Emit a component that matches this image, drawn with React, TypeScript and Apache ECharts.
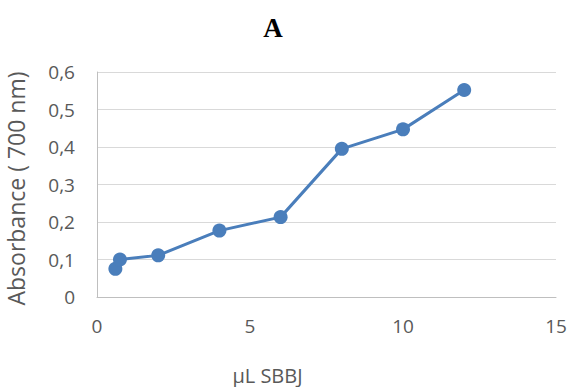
import React, { useEffect, useRef } from "react";
import * as echarts from "echarts";

const xValues = [0.6, 0.75, 2, 4, 6, 8, 10, 12];
const yValues = [0.075, 0.1, 0.111, 0.177, 0.213, 0.395, 0.447, 0.552];
const titleText = "A";
const xName = "µL SBBJ";
const yName = "Absorbance ( 700 nm)";

export default function App() {
  const ref = useRef<HTMLDivElement>(null);
  useEffect(() => {
    if (!ref.current) return;
    const chart = echarts.init(ref.current, undefined, { renderer: "svg" });
    const font = "'Open Sans', 'Noto Sans', sans-serif";
    chart.setOption({
      animation: false,
      backgroundColor: "#ffffff",
      title: {
        text: titleText,
        left: 268,
        top: 9,
        textAlign: "center",
        textStyle: { fontFamily: "'Liberation Serif', serif", fontWeight: "bold", fontSize: 27, color: "#000" },
      },
      grid: { left: 97, right: 15, top: 72, bottom: 90, outerBoundsMode: "none", containLabel: false },
      xAxis: {
        type: "value",
        min: 0,
        max: 15,
        interval: 5,
        name: xName,
        nameLocation: "middle",
        nameGap: 68,
        nameTextStyle: { fontFamily: font, fontSize: 20, color: "#595959", padding: [0, 0, 0, -118] },
        axisLine: { show: true, lineStyle: { color: "#bfbfbf", width: 1 } },
        axisTick: { show: false },
        splitLine: { show: false },
        axisLabel: { fontFamily: font, fontSize: 19, color: "#595959", margin: 19 },
      },
      yAxis: {
        type: "value",
        min: 0,
        max: 0.6,
        interval: 0.1,
        name: yName,
        nameLocation: "middle",
        nameGap: 70,
        nameTextStyle: { fontFamily: font, fontSize: 23, color: "#595959", padding: [0, 0, 0, -8] },
        axisLine: { show: true, lineStyle: { color: "#bfbfbf", width: 1 } },
        axisTick: { show: false },
        splitLine: { show: true, lineStyle: { color: "#d9d9d9", width: 1 } },
        axisLabel: {
          fontFamily: font,
          fontSize: 19,
          color: "#595959",
          margin: 22,
          formatter: (v: number) => (Math.round(v * 10) / 10).toString().replace(".", ","),
        },
      },
      series: [
        {
          type: "line",
          data: xValues.map((x, i) => [x, yValues[i]]),
          symbol: "circle",
          symbolSize: 14,
          lineStyle: { color: "#4a7ebb", width: 3 },
          itemStyle: { color: "#4a7ebb" },
        },
      ],
    });
    return () => chart.dispose();
  }, []);
  return <div ref={ref} style={{ width: 571, height: 387, position: "absolute", left: 0, top: 0 }} />;
}
